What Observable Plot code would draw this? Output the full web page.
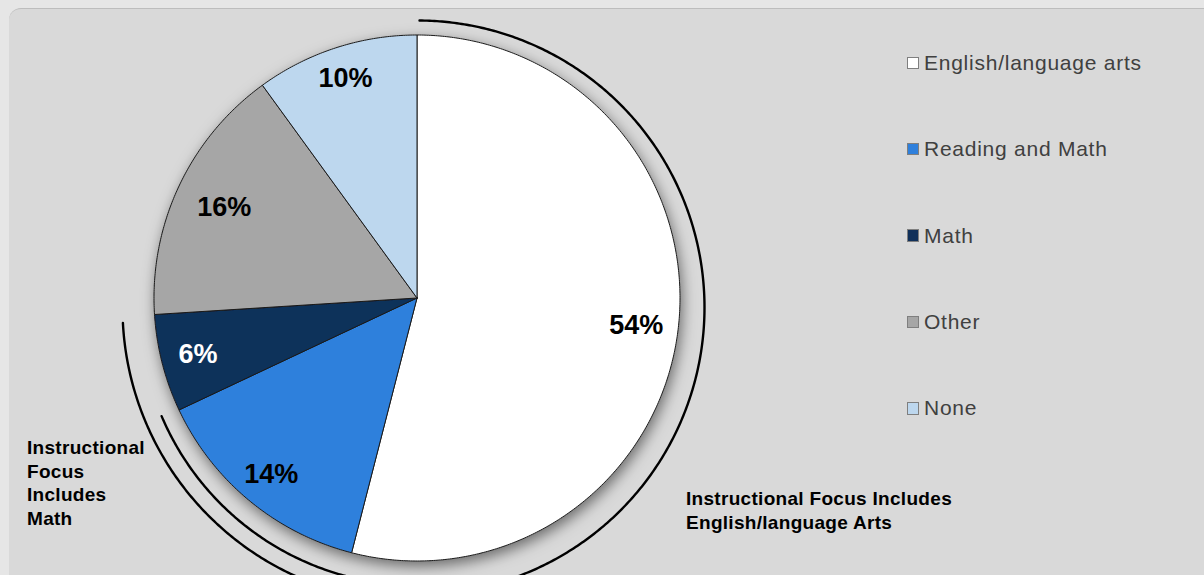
<!DOCTYPE html>
<html>
<head>
<meta charset="utf-8">
<script src="https://cdn.jsdelivr.net/npm/d3@7"></script>
<script src="https://cdn.jsdelivr.net/npm/@observablehq/plot@0.6"></script>
<style>
  html, body { margin: 0; padding: 0; background: #E6E6E6; }
  #wrap { position: relative; width: 1204px; height: 575px; overflow: hidden; background: #E6E6E6;
          font-family: "Liberation Sans", Arial, Helvetica, sans-serif; }
  #panel { position: absolute; left: 9px; top: 8px; right: 0; bottom: -20px; background: #D9D9D9;
           border-top: 1px solid #BDBDBD; border-top-left-radius: 12px; }
  #chart { position: absolute; left: 0; top: 0; }
  .lg { position: absolute; left: 906.5px; height: 24px; display: flex; align-items: center;
        font-size: 21px; line-height: 24px; letter-spacing: 0.75px; color: #404040; white-space: nowrap; }
  .sw { width: 10.5px; height: 10.5px; border: 1px solid #7F7F7F; margin-right: 5px; flex: none; }
  .note { position: absolute; font-size: 19px; font-weight: bold; line-height: 23.5px; letter-spacing: 0.3px; color: #000; }
</style>
</head>
<body>
<div id="wrap">
  <div id="panel"></div>
  <div id="chart"></div>
  <div id="legend"></div>
  <div id="noteMath" class="note" style="left:27px; top:436.3px; width:130px;"></div>
  <div id="noteEla" class="note" style="left:686px; top:487.3px; width:300px;"></div>
</div>
<script>
// ---- data ----
const categories = ["English/language arts", "Reading and Math", "Math", "Other", "None"];
const shares = [54, 14, 6, 16, 10];
const percentLabels = ["54%", "14%", "6%", "16%", "10%"];
const sliceColors = ["#FFFFFF", "#2F80DC", "#10305A", "#A6A6A6", "#BDD7EE"];
const darkSlices = ["Math"];
const noteMath = ["Instructional", "Focus", "Includes", "Math"];
const noteEla = ["Instructional Focus Includes", "English/language Arts"];

// ---- layout ----
const W = 1204, H = 575;
const CX = 416.5, CY = 297.5, R = 263;         // pie centre and radius (px)
const BCX = 417, BCY = 307;                     // bracket arcs centre (px)
const brackets = [                               // radius px, start/end angle (deg clockwise from 12 o'clock)
  {r: 287, a0: 0.4, a1: 185},
  {r: 278, a0: 247, a1: 175},
  {r: 295, a0: 267, a1: 175}
];
const labelRadius = [0.84, 0.87, 0.86, 0.81, 0.88]; // label distance from centre, fraction of radius
const rad = d => d * Math.PI / 180;

// pie polygons
const total = d3.sum(shares);
const slices = [];
const labels = [];
let start = 0;
categories.forEach((c, i) => {
  const span = shares[i] / total * 360;
  const end = start + span;
  const n = Math.max(2, Math.ceil(span * 2));
  slices.push({c, x: 0, y: 0});
  for (let k = 0; k <= n; k++) {
    const a = rad(start + span * k / n);
    slices.push({c, x: Math.sin(a), y: Math.cos(a)});
  }
  slices.push({c, x: 0, y: 0});
  const m = rad(start + span / 2);
  labels.push({c, label: percentLabels[i], x: labelRadius[i] * Math.sin(m), y: labelRadius[i] * Math.cos(m)});
  start = end;
});

// bracket arcs (in the same unit space)
const arcPts = [];
brackets.forEach((b, j) => {
  const n = Math.ceil(Math.abs(b.a1 - b.a0) * 2);
  for (let k = 0; k <= n; k++) {
    const a = rad(b.a0 + (b.a1 - b.a0) * k / n);
    arcPts.push({j, x: (BCX - CX + b.r * Math.sin(a)) / R, y: (CY - BCY + b.r * Math.cos(a)) / R});
  }
});

const font = "'Liberation Sans', Arial, Helvetica, sans-serif";
const plot = Plot.plot({
  width: W,
  height: H,
  margin: 0,
  style: {background: "transparent", fontFamily: font},
  x: {domain: [-CX / R, (W - CX) / R], axis: null},
  y: {domain: [-(H - CY) / R, CY / R], axis: null},
  color: {domain: categories, range: sliceColors},
  marks: [
    Plot.line(slices, {x: "x", y: "y", z: "c", fill: "c", stroke: "#1A1A1A", strokeWidth: 1, strokeLinejoin: "round", curve: "linear"}),
    Plot.line(arcPts, {x: "x", y: "y", z: "j", stroke: "#000", strokeWidth: 2.4, fill: "none"}),
    Plot.text(labels.filter(d => !darkSlices.includes(d.c)), {x: "x", y: "y", text: "label", fill: "#000",
      fontSize: 27, fontWeight: "bold", fontFamily: font, textAnchor: "middle", lineAnchor: "middle"}),
    Plot.text(labels.filter(d => darkSlices.includes(d.c)), {x: "x", y: "y", text: "label", fill: "#FFF",
      fontSize: 27, fontWeight: "bold", fontFamily: font, textAnchor: "middle", lineAnchor: "middle"})
  ]
});

// drop shadow under the pie
const ns = "http://www.w3.org/2000/svg";
const defs = document.createElementNS(ns, "defs");
defs.innerHTML = '<filter id="pieShadow" x="-20%" y="-20%" width="140%" height="140%">' +
  '<feDropShadow dx="2" dy="5" stdDeviation="7" flood-color="#000" flood-opacity="0.5"/></filter>';
plot.insertBefore(defs, plot.firstChild);
const pieG = plot.querySelectorAll('g[aria-label="line"]')[0];
if (pieG) pieG.setAttribute("filter", "url(#pieShadow)");
document.getElementById("chart").appendChild(plot);

// legend
const lg = document.getElementById("legend");
categories.forEach((c, i) => {
  const row = document.createElement("div");
  row.className = "lg";
  row.style.top = (50.8 + i * 86.4) + "px";
  const sw = document.createElement("span");
  sw.className = "sw";
  sw.style.background = sliceColors[i];
  row.appendChild(sw);
  row.appendChild(document.createTextNode(c));
  lg.appendChild(row);
});

// notes
document.getElementById("noteMath").innerHTML = noteMath.join("<br>");
document.getElementById("noteEla").innerHTML = noteEla.join("<br>");
</script>
</body>
</html>
